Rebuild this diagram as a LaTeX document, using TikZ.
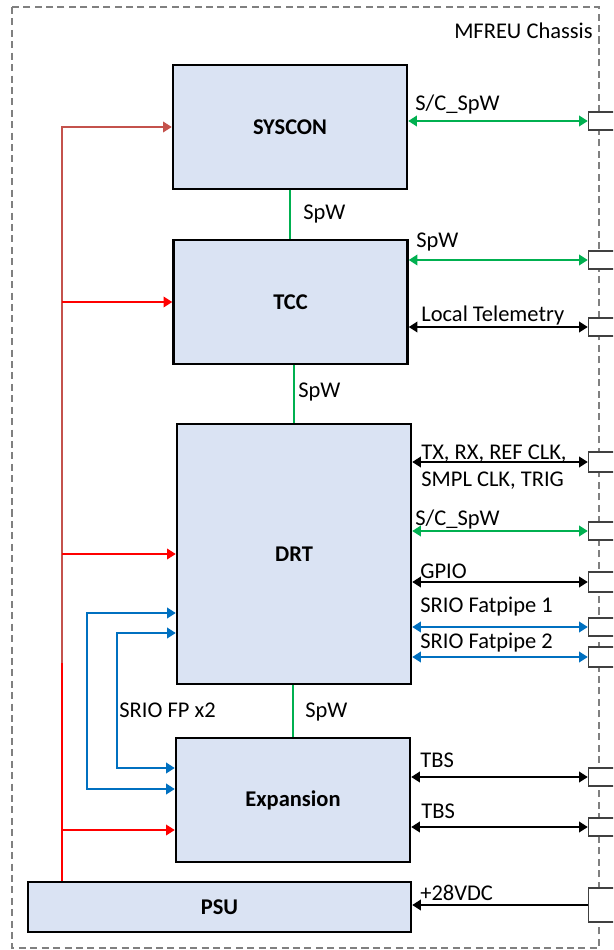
\documentclass[tikz,border=0pt]{standalone}
\usepackage{fontspec}
\setmainfont{Carlito}
\usepackage{tikz}
\usetikzlibrary{arrows.meta,positioning,calc}
\definecolor{boxfill}{RGB}{218,227,243}
\definecolor{spwgreen}{RGB}{0,176,80}
\definecolor{srioblue}{RGB}{0,112,192}
\definecolor{pwrred}{RGB}{255,0,0}
\definecolor{oldred}{RGB}{196,82,76}
\definecolor{chgray}{RGB}{128,128,128}

\begin{document}
\begin{tikzpicture}[x=0.02cm, y=-0.02cm, every node/.style={font=\fontsize{12.8}{15}\selectfont}, >={Triangle[width=6pt,length=5pt]}]
\tikzstyle{unit}=[draw, line width=1.4pt, fill=boxfill, font=\fontsize{12.8}{15}\selectfont\bfseries, minimum width=4.68cm, minimum height=2.48cm, inner sep=0pt]
\tikzstyle{conn}=[draw=black!75, line width=0.8pt, fill=white, minimum width=0.7cm, minimum height=0.36cm, inner sep=0pt]
\tikzstyle{lnk}=[line width=1.2pt, <->]
\tikzstyle{pwr}=[line width=1.1pt, pwrred]
\tikzstyle{lbl}=[inner sep=0pt, anchor=base west]
\clip (0,0) rectangle (613,950);
% chassis outline
\draw[chgray, dash pattern=on 4pt off 2.5pt, line width=0.9pt] (12,7) rectangle (599,948);
\node[inner sep=0pt, anchor=base east] (title) at (593,38) {MFREU Chassis};
% units
\node[unit] (syscon) at (290,127) {SYSCON};
\node[unit] (tcc) at (290.5,302) {TCC};
\node[unit, minimum height=5.2cm] (drt) at (294,554) {DRT};
\node[unit] (exp) at (293,800) {Expansion};
\node[unit, minimum width=7.66cm, minimum height=1cm] (psu) at (219.5,907) {PSU};
% chassis connectors
\node[conn] (p1) at (606,121) {};
\node[conn] (p2) at (606,260) {};
\node[conn] (p3) at (606,327) {};
\node[conn, minimum height=0.4cm] (p4) at (606,462) {};
\node[conn] (p5) at (606,531) {};
\node[conn, minimum height=0.4cm] (p6) at (606,582) {};
\node[conn] (p7) at (606,627) {};
\node[conn, minimum height=0.4cm] (p8) at (606,657) {};
\node[conn] (p9) at (606,777) {};
\node[conn] (p10) at (606,827) {};
\node[conn, minimum height=0.68cm] (p11) at (606,905) {};
% external links
\draw[lnk, spwgreen] (syscon.east |- p1) -- (p1);
\draw[lnk, spwgreen] (tcc.east |- p2) -- (p2);
\draw[lnk] (tcc.east |- p3) -- (p3);
\draw[lnk] (drt.east |- p4) -- (p4);
\draw[lnk, spwgreen] (drt.east |- p5) -- (p5);
\draw[lnk] (drt.east |- p6) -- (p6);
\draw[lnk, srioblue] (drt.east |- p7) -- (p7);
\draw[lnk, srioblue] (drt.east |- p8) -- (p8);
\draw[lnk] (exp.east |- p9) -- (p9);
\draw[lnk] (exp.east |- p10) -- (p10);
\draw[line width=1.2pt, ->] (p11) -- (psu.east |- p11);
\node[lbl] (l1) at (415,110) {S/C\_SpW};
\node[lbl] (l2) at (416,247) {SpW};
\node[lbl] (l3) at (421,321) {Local Telemetry};
\node[lbl, align=left, anchor=west] (l4) at (421,467) {TX, RX, REF CLK,\\SMPL CLK, TRIG};
\node[lbl] (l5) at (415,525) {S/C\_SpW};
\node[lbl] (l6) at (420,578) {GPIO};
\node[lbl] (l7) at (420,612) {SRIO Fatpipe 1};
\node[lbl] (l8) at (420,648) {SRIO Fatpipe 2};
\node[lbl] (l9) at (420,767) {TBS};
\node[lbl] (l10) at (421,818) {TBS};
\node[lbl] (l11) at (420,900) {+28VDC};
% internal SpW
\draw[spwgreen, line width=1pt] (syscon.south) -- (syscon.south |- tcc.north);
\draw[spwgreen, line width=1pt] (drt.north) -- (drt.north |- tcc.south);
\draw[spwgreen, line width=1pt] (exp.north) -- (exp.north |- drt.south);
\node[lbl] (s1) at (303,219) {SpW};
\node[lbl] (s2) at (298,397) {SpW};
\node[lbl] (s3) at (305,717) {SpW};
% SRIO fatpipes between DRT and Expansion
\coordinate (sroA) at (87,0);
\coordinate (sroB) at (117,0);
\coordinate (fpA1) at ($(drt.west)+(0,59)$);
\coordinate (fpA2) at ($(exp.west)+(0,-11)$);
\coordinate (fpB1) at ($(drt.west)+(0,79)$);
\coordinate (fpB2) at ($(exp.west)+(0,-32)$);
\draw[lnk, srioblue] (fpA1) -- (sroA |- fpA1) -- (sroA |- fpA2) -- (fpA2);
\draw[lnk, srioblue] (fpB1) -- (sroB |- fpB1) -- (sroB |- fpB2) -- (fpB2);
\node[lbl] (fplbl) at (119,717) {SRIO FP x2};
% power distribution
\coordinate (rail) at (62,0);
\coordinate (railX) at (62,663);
\coordinate (pwrX) at ($(exp.west)+(0,30)$);
\draw[pwr] (rail |- psu.north) -- (railX);
\draw[line width=1.1pt, oldred, ->] (railX) -- (rail |- syscon.west) -- (syscon.west);
\draw[pwr, ->] (rail |- tcc.west) -- (tcc.west);
\draw[pwr, ->] (rail |- drt.west) -- (drt.west);
\draw[pwr, ->] (rail |- pwrX) -- (pwrX);
\end{tikzpicture}
\end{document}
